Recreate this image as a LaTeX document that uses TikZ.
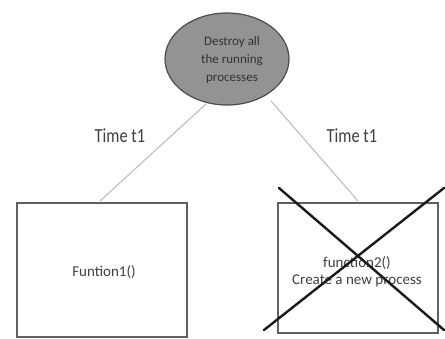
\documentclass[tikz,border=0pt]{standalone}
\usepackage{fontspec}
\setmainfont{Carlito}
\usetikzlibrary{shapes.geometric}
\begin{document}
\begin{tikzpicture}[x=1pt,y=-1pt,
  box/.style={draw=gray!75!black,line width=1.8pt,fill=white,inner sep=0pt},
  conn/.style={draw=gray!55,line width=1pt},
  lbl/.style={font=\fontsize{20}{22}\selectfont,text=black!75,xscale=0.82},
  small/.style={font=\fontsize{15}{17}\selectfont,text=black!75,align=center},
  etext/.style={font=\fontsize{13}{18}\selectfont,text=black!80,align=center},
  xline/.style={line width=2.4pt,black!90,line cap=round}]
\useasboundingbox (0,0) rectangle (445,339);
\node[ellipse,draw=gray!60!black,line width=1.2pt,fill=gray!85,minimum width=124pt,minimum height=92pt,inner sep=0pt] (e) at (227,59) {};
\node[etext] (et) at (232,60) {Destroy all\\the running\\processes};
\node[box,minimum width=170pt,minimum height=134pt] (b1) at (102,270) {};
\node[box,minimum width=160pt,minimum height=130pt] (b2) at (358,268) {};
\node[small] (t1) at (104,272) {Funtion1()};
\node[small] (t2) at (357,272) {function2()\\Create a new process};
\coordinate (a1) at (100,201);
\coordinate (a2) at (358,201);
\coordinate (e1) at (206,104);
\coordinate (e2) at (271,101);
\draw[conn] (a1) -- (e1);
\draw[conn] (a2) -- (e2);
\node[lbl] (l1) at (120,136) {Time t1};
\node[lbl] (l2) at (352,136) {Time t1};
\coordinate (c1) at (264,330);
\coordinate (c2) at (444,188);
\coordinate (c3) at (279,188);
\coordinate (c4) at (444,330);
\draw[xline] (c1) -- (c2);
\draw[xline] (c3) -- (c4);
\end{tikzpicture}
\end{document}
